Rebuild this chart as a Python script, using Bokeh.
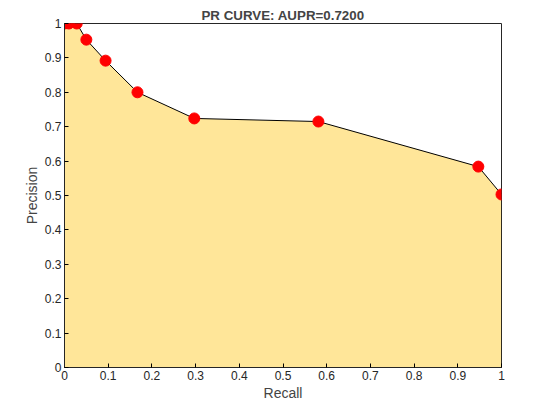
from bokeh.plotting import figure
from bokeh.models import Range1d, FixedTicker
from bokeh.embed import file_html
from bokeh.resources import INLINE

recall = [0.0, 0.01, 0.028, 0.05, 0.094, 0.167, 0.297, 0.581, 0.947, 1.0]
precision = [1.0, 1.0, 1.0, 0.953, 0.892, 0.80, 0.724, 0.715, 0.584, 0.503]
ticks = [0, 0.1, 0.2, 0.3, 0.4, 0.5, 0.6, 0.7, 0.8, 0.9, 1]
tick_labels = {t: ("0" if t == 0 else "1" if t == 1 else str(t)) for t in ticks}

p = figure(width=544, height=404, output_backend="svg", toolbar_location=None,
           x_range=Range1d(0, 1), y_range=Range1d(0, 1),
           min_border_left=64, min_border_right=43, min_border_top=23, min_border_bottom=37)
p.title.text = "PR CURVE: AUPR=0.7200"
p.title.align = "center"
p.title.text_font = "Liberation Sans"
p.title.text_font_size = "10pt"
p.title.text_font_style = "bold"
p.title.standoff = 2
p.grid.visible = False
p.outline_line_color = "#262626"

xs = [0] + recall + [1]
ys = [0] + precision + [0]
p.patch(xs, ys, fill_color="#FFE699", line_color=None)
p.line([0, 0], [0, 1], line_color="#262626", line_width=1)
p.line(recall + [1], precision + [0], line_color="black", line_width=1)
p.scatter(recall, precision, size=11, color="red")

for ax, lab in ((p.xaxis[0], "Recall"), (p.yaxis[0], "Precision")):
    ax.axis_label = lab
    ax.ticker = FixedTicker(ticks=ticks)
    ax.major_label_overrides = tick_labels
    ax.major_tick_in = 4
    ax.major_tick_out = 0
    ax.minor_tick_line_color = None
    ax.axis_line_color = "#262626"
    ax.major_label_standoff = 3
    ax.axis_label_standoff = 2
    ax.major_label_text_font = "Liberation Sans"
    ax.major_label_text_font_size = "9pt"
    ax.axis_label_text_font = "Liberation Sans"
    ax.axis_label_text_font_size = "10.5pt"
    ax.axis_label_text_font_style = "normal"
    ax.major_label_text_color = "#262626"

open("out.html", "w").write(file_html(p, INLINE))
